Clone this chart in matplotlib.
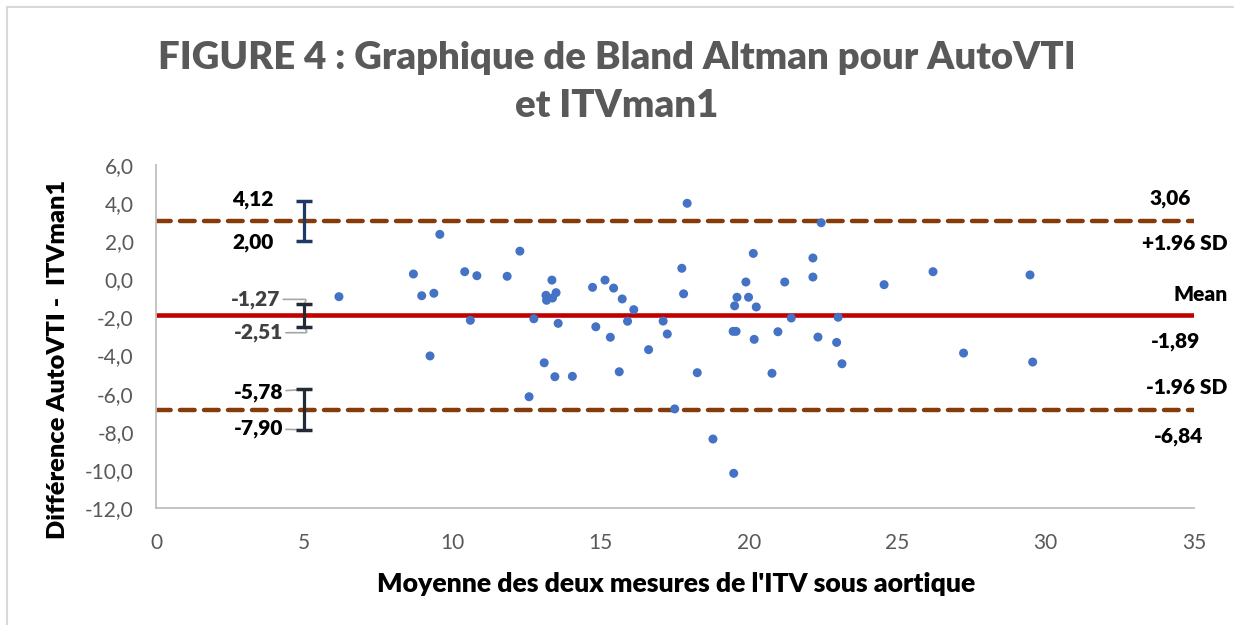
import numpy as np
import matplotlib.pyplot as plt
from matplotlib.lines import Line2D

plt.rcParams['font.family'] = ['Lato', 'DejaVu Sans']
GRAS = 800

# Moyenne des deux mesures (x) et différence AutoVTI - ITVman1 (y)
moyenne = [6.17, 8.68, 8.96, 9.37, 9.24, 9.57, 10.41, 10.82, 10.60, 12.27,
           11.84, 12.74, 13.09, 12.58, 13.35, 13.15, 13.17, 13.37, 13.49, 13.56,
           13.45, 14.04, 14.72, 15.14, 15.43, 15.72, 16.11, 14.83, 15.32, 15.90,
           15.62, 16.61, 17.10, 17.24, 17.49, 17.73, 17.79, 17.91, 18.25, 18.78,
           19.48, 20.14, 19.89, 19.59, 19.98, 19.51, 20.24, 19.46, 19.56, 20.17,
           20.97, 20.77, 21.20, 21.42, 22.15, 22.15, 22.43, 22.32, 23.00, 22.95,
           23.13, 24.55, 26.20, 27.23, 29.47, 29.56]
difference = [-0.91, 0.28, -0.86, -0.73, -4.02, 2.36, 0.40, 0.19, -2.15, 1.48,
              0.16, -2.07, -4.38, -6.16, -0.04, -0.84, -1.10, -0.98, -0.70, -2.31,
              -5.11, -5.09, -0.42, -0.04, -0.46, -1.03, -1.59, -2.49, -3.04, -2.20,
              -4.85, -3.69, -2.19, -2.87, -6.80, 0.58, -0.76, 3.99, -4.90, -8.38,
              -10.18, 1.36, -0.14, -0.94, -0.94, -1.39, -1.45, -2.73, -2.73, -3.15,
              -2.75, -4.93, -0.14, -2.03, 1.12, 0.12, 2.97, -3.03, -1.99, -3.31,
              -4.43, -0.28, 0.40, -3.87, 0.23, -4.34]

# Biais et limites d'agrément
biais = -1.89
lim_sup = 3.06
lim_inf = -6.84

# Intervalles de confiance (haut, bas) affichés à x = 5
ic_x = 5
ic_haut = [4.12, -1.27, -5.78]
ic_bas = [2.00, -2.51, -7.90]
ic_textes_haut = ['4,12', '-1,27', '-5,78']
ic_textes_bas = ['2,00', '-2,51', '-7,90']

fig = plt.figure(figsize=(12.34, 6.25), dpi=100)
ax = fig.add_axes([0.1264, 0.1872, 0.8412, 0.5488])

# Bordure de la zone graphique (haut et gauche visibles)
fig.add_artist(Line2D([7/1234, 1], [1 - 7/625, 1 - 7/625], transform=fig.transFigure,
                      color='#d9d9d9', lw=1.5))
fig.add_artist(Line2D([7/1234, 7/1234], [0, 1 - 7/625], transform=fig.transFigure,
                      color='#d9d9d9', lw=1.5))

x_lim = (0, 35)
ax.plot(x_lim, [lim_sup, lim_sup], color='#843C0C', lw=3.2, ls=(0, (3.3, 2.1)),
        dash_capstyle='round', zorder=2)
ax.plot(x_lim, [lim_inf, lim_inf], color='#843C0C', lw=3.2, ls=(0, (3.3, 2.1)),
        dash_capstyle='round', zorder=2)
ax.plot(x_lim, [biais, biais], color='#C00000', lw=3.3, zorder=2)

ax.scatter(moyenne, difference, s=42, color='#4472C4', edgecolors='none', zorder=3)

# Barres d'IC
couleurs_ic = ['#203864', '#222A35', '#222A35']
couleurs_cap = ['#4E6B45', '#222A35', '#3A4A5E']
for hi, lo, c, cc in zip(ic_haut, ic_bas, couleurs_ic, couleurs_cap):
    mid = (hi + lo) / 2
    _, caps, _ = ax.errorbar([ic_x], [mid], yerr=[[mid - lo], [hi - mid]], fmt='none',
                             ecolor=c, elinewidth=2.3, capsize=5.5, capthick=2.5, zorder=4)
    for cap in caps:
        cap.set_color(cc)

# Étiquettes des IC
gris_lab = '#404040'
fs_lab = 15
ax.annotate(ic_textes_haut[0], (ic_x, ic_haut[0]), xytext=(-37, 1), textcoords='offset points',
            ha='center', va='center', fontsize=fs_lab, fontweight=GRAS, color='black')
ax.annotate(ic_textes_bas[0], (ic_x, ic_bas[0]), xytext=(-37, -1), textcoords='offset points',
            ha='center', va='center', fontsize=fs_lab, fontweight=GRAS, color='black')
lead = dict(arrowstyle='-', color='#a6a6a6', lw=1.2, shrinkA=0, shrinkB=1)
ax.annotate(ic_textes_haut[1], (ic_x, ic_haut[1]), xytext=(-35, 3), textcoords='offset points',
            ha='center', va='center', fontsize=fs_lab, fontweight=GRAS, color=gris_lab,
            arrowprops=dict(lead, connectionstyle='angle,angleA=0,angleB=60,rad=2'))
ax.annotate(ic_textes_bas[1], (ic_x, ic_bas[1]), xytext=(-33, -4), textcoords='offset points',
            ha='center', va='center', fontsize=fs_lab, fontweight=GRAS, color=gris_lab,
            arrowprops=dict(lead, connectionstyle='angle,angleA=0,angleB=-60,rad=2'))
ax.annotate(ic_textes_haut[2], (ic_x, ic_haut[2]), xytext=(-33, -2), textcoords='offset points',
            ha='center', va='center', fontsize=fs_lab, fontweight=GRAS, color='black',
            arrowprops=lead)
ax.annotate(ic_textes_bas[2], (ic_x, ic_bas[2]), xytext=(-33, 1), textcoords='offset points',
            ha='center', va='center', fontsize=fs_lab, fontweight=GRAS, color='black',
            arrowprops=lead)

# Étiquettes à droite
lab = dict(textcoords='offset points', va='center', fontsize=fs_lab, fontweight=GRAS,
           color='black', annotation_clip=False)
ax.annotate('3,06', (35, lim_sup), xytext=(-17, 16.5), ha='center', **lab)
ax.annotate('+1.96 SD', (35, lim_sup), xytext=(24, -16), ha='right', **lab)
ax.annotate('Mean', (35, biais), xytext=(24, 15), ha='right', **lab)
ax.annotate('-1,89', (35, biais), xytext=(-13, -19), ha='center', **lab)
ax.annotate('-1.96 SD', (35, lim_inf), xytext=(24, 16), ha='right', **lab)
ax.annotate('-6,84', (35, lim_inf), xytext=(-11, -19.5), ha='center', **lab)

ax.set_xlim(x_lim)
ax.set_ylim(-12, 6)
ax.set_xticks(range(0, 36, 5))
ax.set_yticks(np.arange(-12, 7, 2))
ax.set_yticklabels([f'{v:.1f}'.replace('.', ',') for v in np.arange(-12, 7, 2)])
ax.tick_params(length=0, labelsize=15, labelcolor='#595959')
ax.tick_params(axis='y', pad=16)
ax.tick_params(axis='x', pad=18)
for s in ['top', 'right']:
    ax.spines[s].set_visible(False)
for s in ['left', 'bottom']:
    ax.spines[s].set_color('#bfbfbf')
    ax.spines[s].set_linewidth(1.3)

fig.text(0.5, 1 - 82/625, "FIGURE 4 : Graphique de Bland Altman pour AutoVTI\net ITVman1",
         ha='center', va='center', fontsize=27.5, fontweight=GRAS, color='#595959',
         linespacing=1.5)
fig.text(676/1234, 1 - 584/625, "Moyenne des deux mesures de l'ITV sous aortique",
         ha='center', va='center', fontsize=19.2, fontweight=GRAS, color='black')
fig.text(58/1234, 1 - 359/625, "Différence AutoVTI -  ITVman1", rotation=90,
         ha='center', va='center', fontsize=18.3, fontweight=GRAS, color='black')

fig.savefig('out.png', dpi=100)
